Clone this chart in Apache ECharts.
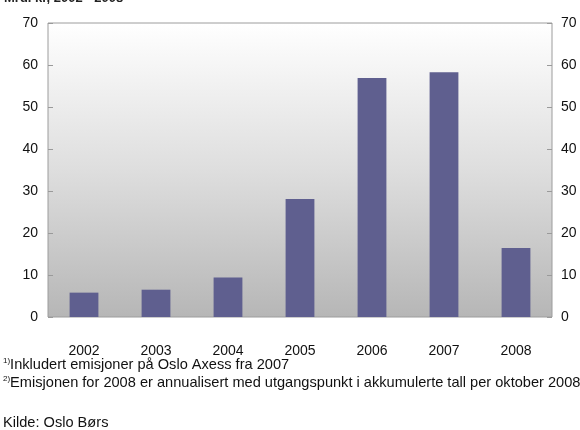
<!DOCTYPE html>
<html>
<head>
<meta charset="utf-8">
<style>
  html, body { margin: 0; padding: 0; background: #ffffff; }
  #chart { width: 580px; height: 430px; }
</style>
<script src="https://cdn.jsdelivr.net/npm/echarts@6/dist/echarts.min.js"></script>
</head>
<body>
<div id="chart"></div>
<script>
// Emisjoner per år, 2002–2008
const years = ['2002', '2003', '2004', '2005', '2006', '2007', '2008'];
const emisjoner = [5.8, 6.5, 9.4, 28.1, 56.9, 58.3, 16.4];
const yTicks = { min: 0, max: 70, step: 10 };

const titleText = 'Mrd. kr, 2002 - 2008';
const note1 = 'Inkludert emisjoner på Oslo Axess fra 2007';
const note2 = 'Emisjonen for 2008 er annualisert med utgangspunkt i akkumulerte tall per oktober 2008';
const sourceText = 'Kilde: Oslo Børs';

const font = '"Liberation Sans", Arial, sans-serif';
const chart = echarts.init(document.getElementById('chart'), null, { renderer: 'canvas' });

const valueAxis = (pos) => ({
  type: 'value',
  position: pos,
  min: yTicks.min,
  max: yTicks.max,
  interval: yTicks.step,
  axisLine: { show: false },
  axisTick: { show: true, inside: true, length: 5, lineStyle: { color: '#9a9a9a' } },
  splitLine: { show: false },
  axisLabel: { color: '#111', fontFamily: font, fontSize: 14, margin: pos === 'left' ? 10 : 9 }
});

chart.setOption({
  animation: false,
  grid: {
    left: 48, right: 28, top: 23, bottom: 113,
    show: true,
    borderColor: '#9c9c9c',
    borderWidth: 1,
    backgroundColor: new echarts.graphic.LinearGradient(0, 0, 0, 1, [
      { offset: 0, color: '#ffffff' },
      { offset: 0.5, color: '#dedede' },
      { offset: 1, color: '#b6b6b6' }
    ])
  },
  xAxis: {
    type: 'category',
    data: years,
    axisLine: { show: false },
    axisTick: { show: false },
    axisLabel: { color: '#111', fontFamily: font, fontSize: 14, margin: 27 }
  },
  yAxis: [valueAxis('left'), valueAxis('right')],
  series: [{
    type: 'bar',
    data: emisjoner,
    barWidth: '40%',
    itemStyle: { color: '#5f5f8f' }
  }],
  graphic: [
    {
      type: 'text', left: 4, top: -8,
      style: { text: titleText, font: 'bold 13px ' + font, fill: '#222' }
    },
    {
      type: 'text', left: 3, top: 357,
      style: {
        text: '{s|1)}' + note1,
        font: '14.6px ' + font, fill: '#111',
        rich: { s: { fontSize: 8, verticalAlign: 'top', fontFamily: font, fill: '#111' } }
      }
    },
    {
      type: 'text', left: 3, top: 375,
      style: {
        text: '{s|2)}' + note2,
        font: '14.6px ' + font, fill: '#111',
        rich: { s: { fontSize: 8, verticalAlign: 'top', fontFamily: font, fill: '#111' } }
      }
    },
    {
      type: 'text', left: 3, top: 415,
      style: { text: sourceText, font: '14.6px ' + font, fill: '#111' }
    }
  ]
});
</script>
</body>
</html>
